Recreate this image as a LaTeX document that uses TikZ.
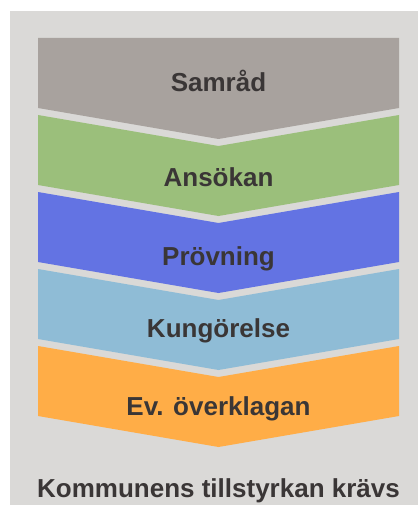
\documentclass[tikz,border=0pt]{standalone}
\usepackage{fontspec}
\setmainfont{Liberation Sans}

\definecolor{panelgray}{HTML}{DAD9D7}
\definecolor{samradgray}{HTML}{A8A29E}
\definecolor{ansokgreen}{HTML}{9BBF7B}
\definecolor{provblue}{HTML}{6373E3}
\definecolor{kungblue}{HTML}{8FBCD6}
\definecolor{overorange}{HTML}{FFAD47}
\definecolor{labeltext}{HTML}{3A3636}

\begin{document}
\begin{tikzpicture}[x=1pt,y=-1pt,
    steplabel/.style={anchor=base,text=labeltext,font=\fontsize{26}{30}\selectfont\bfseries,inner sep=0pt}]
            \useasboundingbox (0,0) rectangle (418,505);
            \fill[panelgray] (10,11) rectangle (418,505);
            % chevrons
            \fill[samradgray] (38,38) -- (399,38) -- (399,108) -- (218.5,139) -- (38,108) -- cycle;
            \fill[ansokgreen] (38,115) -- (218.5,146) -- (399,115) -- (399,185) -- (218.5,216) -- (38,185) -- cycle;
            \fill[provblue] (38,192) -- (218.5,223) -- (399,192) -- (399,262) -- (218.5,293) -- (38,262) -- cycle;
            \fill[kungblue] (38,269) -- (218.5,300) -- (399,269) -- (399,339) -- (218.5,370) -- (38,339) -- cycle;
            \fill[overorange] (38,346) -- (218.5,377) -- (399,346) -- (399,416) -- (218.5,447) -- (38,416) -- cycle;
            \begin{scope}[every node/.style={steplabel}]
                \node (samrad) at (218.5,92) {Samråd};
                \node (ansokan) at (218.5,186) {Ansökan};
                \node (provning) at (218.5,265) {Prövning};
                \node (kungorelse) at (218.5,337) {Kungörelse};
                \node (overklagan) at (218.5,415) {Ev. överklagan};
                \node (tillstyrkan) at (218.5,497) {Kommunens tillstyrkan krävs};
            \end{scope}
        \end{tikzpicture}
\end{document}
